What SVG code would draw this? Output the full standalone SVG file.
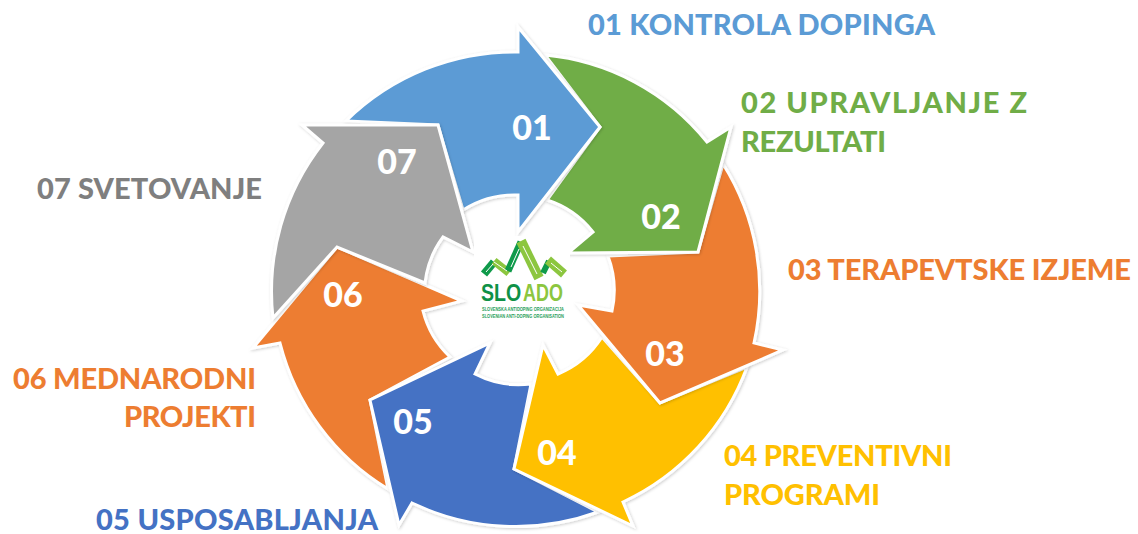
<svg xmlns="http://www.w3.org/2000/svg" width="1138" height="534" viewBox="0 0 1138 534">
<style>
.a{stroke:#fff;stroke-width:3;stroke-linejoin:miter;filter:url(#s)}
.n{font:900 34px Lato,"Open Sans",sans-serif;fill:#fff;text-anchor:middle}
.l{font:900 29px Lato,"Open Sans",sans-serif}
.d{stroke:#0f9a4a;fill:none}
.g{stroke:#8cc63f;fill:none}
.w{stroke:#fff;stroke-width:1;fill:none}
.t{font:700 4.6px "Liberation Sans",sans-serif;fill:#1f9e5a}
.b{font:700 23px "Liberation Sans",sans-serif}
</style>
<defs><filter id="s" x="-10%" y="-10%" width="120%" height="120%"><feDropShadow dx="1" dy="1" stdDeviation="1.5" flood-color="#000" flood-opacity=".2"/></filter></defs>
<rect width="1138" height="534" fill="#fff"/>
<g id="connectors" fill="none"></g>
<g id="node-06"><path class="a" fill="#ed7d31" d="M337 247L462 301L423 311A95 95 0 0 0 450 357L370 400L388 489A240 240 0 0 1 280 343L253 348Z"/><text class="n" x="343" y="307">06</text></g>
<g id="node-05"><path class="a" fill="#4472c4" d="M490 343L475 374A95 95 0 0 0 531 384L514 469L598 512A240 240 0 0 1 412 503L399 525L370 400Z"/><text class="n" x="413" y="434">05</text></g>
<g id="node-04"><path class="a" fill="#ffc000" d="M543 345L558 374A95 95 0 0 0 602 337L660 403L747 367A240 240 0 0 1 623 502L633 526L514 469Z"/><text class="n" x="557" y="465">04</text></g>
<g id="node-03"><path class="a" fill="#ed7d31" d="M578 305L612 311A97 97 0 0 0 608 256L698 252L723 164A238 238 0 0 1 754 343L783 350L660 403Z"/><text class="n" x="665" y="366">03</text></g>
<g id="node-02"><path class="a" fill="#70ad47" d="M545 55A236 236 0 0 1 707 142L731 127L698 252L568 253L593 232A95 95 0 0 0 547 200L600 127Z"/><text class="n" x="661" y="229">02</text></g>
<g id="node-01"><path class="a" fill="#5b9bd5" d="M518 27L600 127L518 232V195A95 95 0 0 0 463 210L438 125L346 121A240 240 0 0 1 518 52Z"/><text class="n" x="532" y="140">01</text></g>
<g id="node-07"><path class="a" fill="#a5a5a5" d="M302 125H438L473 252L443 237A95 95 0 0 0 425 283L337 247L273 318A240 240 0 0 1 323 143Z"/><text class="n" x="397" y="174">07</text></g>
<g id="logo">
<rect x="474" y="236" width="96" height="86" fill="#fff"/>
<path class="d" stroke-width="8" d="M484 274L494 262"/><path class="g" stroke-width="8" d="M494 261L509 273"/>
<path class="d" stroke-width="7" d="M508 271L521 242"/><path class="g" stroke-width="10" d="M521 241L539 278"/>
<path class="d" stroke-width="6" d="M543 273L549 261"/><path class="g" stroke-width="9" d="M548 260L564 274"/>
<path class="w" d="M486 272L493 264M494 262L507 271M511 267L519 249M523 246L537 274M551 263L562 272"/>
<text class="b" fill="#0f9147" transform="translate(481 301) scale(.85 1)">SLO</text>
<text class="b" fill="#8cc63f" transform="translate(523 301) scale(.78 1)">ADO</text>
<text class="t" x="482" y="311" textLength="82" lengthAdjust="spacingAndGlyphs">SLOVENSKA ANTIDOPING ORGANIZACIJA</text>
<text class="t" x="482" y="318" textLength="82" lengthAdjust="spacingAndGlyphs">SLOVENIAN ANTI-DOPING ORGANISATION</text>
</g>
<g id="labels">
<text class="l" fill="#5b9bd5" x="588" y="35" textLength="347">01 KONTROLA DOPINGA</text>
<text class="l" fill="#70ad47" x="741" y="113" textLength="286">02 UPRAVLJANJE Z</text>
<text class="l" fill="#70ad47" x="741" y="152" textLength="145">REZULTATI</text>
<text class="l" fill="#ed7d31" x="788" y="280" textLength="343">03 TERAPEVTSKE IZJEME</text>
<text class="l" fill="#ffc000" x="724" y="466" textLength="228">04 PREVENTIVNI</text>
<text class="l" fill="#ffc000" x="724" y="505" textLength="156">PROGRAMI</text>
<text class="l" fill="#4472c4" x="96" y="530" textLength="282">05 USPOSABLJANJA</text>
<text class="l" fill="#ed7d31" x="13" y="389" textLength="243">06 MEDNARODNI</text>
<text class="l" fill="#ed7d31" x="124" y="427" textLength="132">PROJEKTI</text>
<text class="l" fill="#7f7f7f" x="37" y="199" textLength="225">07 SVETOVANJE</text>
</g>
</svg>
